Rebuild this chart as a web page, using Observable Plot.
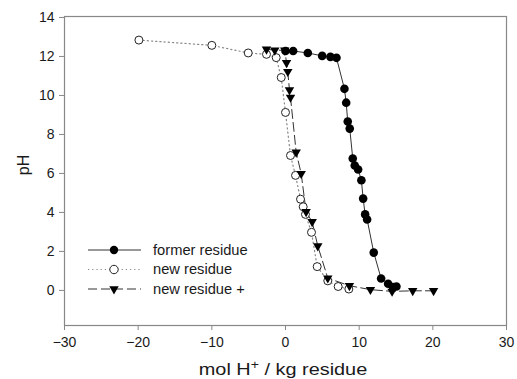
<!DOCTYPE html>
<html>
<head>
<meta charset="utf-8">
<script src="https://cdn.jsdelivr.net/npm/d3@7"></script>
<script src="https://cdn.jsdelivr.net/npm/@observablehq/plot@0.6"></script>
<style>
  html, body { margin: 0; padding: 0; background: #fff; }
  #chart svg { display: block; }
</style>
</head>
<body>
<div id="chart"></div>
<script>
// Former residue (filled circles, solid line)
const formerX = [0, 1.04, 3.03, 4.98, 6.1, 6.92, 8.0, 8.24, 8.45, 8.72, 9.13, 9.4, 9.86, 10.3, 10.54, 10.81, 11.08, 11.98, 12.98, 13.93, 14.6, 15.06];
const formerY = [12.28, 12.28, 12.18, 12.03, 11.98, 11.93, 10.34, 9.63, 8.66, 8.3, 6.77, 6.41, 6.2, 5.65, 4.71, 3.9, 3.64, 1.94, 0.61, 0.34, 0.17, 0.2];

// New residue (open circles, dotted line)
const newX = [-19.9, -10.0, -5.06, -2.58, -1.26, -0.58, 0.0, 0.68, 1.36, 2.04, 2.4, 2.71, 3.53, 4.3, 5.74, 7.15, 8.6];
const newY = [12.84, 12.57, 12.18, 12.11, 11.94, 10.92, 9.13, 6.92, 5.9, 4.68, 4.29, 3.9, 2.98, 1.22, 0.49, 0.2, 0.07];

// New residue + (filled down triangles, dashed line)
const plusX = [-2.58, -1.45, -0.1, 0.14, 0.31, 0.54, 0.68, 1.45, 2.13, 2.8, 3.62, 4.38, 5.74, 8.68, 11.53, 14.47, 17.27, 20.1];
const plusY = [12.37, 12.32, 12.32, 11.68, 11.22, 10.28, 9.9, 7.09, 5.99, 4.03, 3.52, 2.28, 0.63, 0.24, 0.04, -0.05, -0.02, -0.02];

const xTicks = [-30, -20, -10, 0, 10, 20, 30];
const yTicks = [0, 2, 4, 6, 8, 10, 12, 14];
const seriesNames = ["former residue", "new residue", "new residue +"];
const xLabelMain = "mol H";
const xLabelSup = "+";
const xLabelRest = " / kg residue";
const yLabel = "pH";

const former = formerX.map((x, i) => ({x, y: formerY[i]}));
const nres = newX.map((x, i) => ({x, y: newY[i]}));
const plus = plusX.map((x, i) => ({x, y: plusY[i]}));

const font = "'Liberation Sans', Arial, Helvetica, sans-serif";
const axisColor = "#888";
const triR = 3.5;

const plot = Plot.plot({
  width: 517,
  height: 379,
  marginLeft: 64,
  marginRight: 11,
  marginTop: 16,
  marginBottom: 54,
  style: {fontFamily: font, fontSize: "14px", color: "#1a1a1a", background: "#fff"},
  x: {domain: [-30, 30]},
  y: {domain: [-1.8, 14.05]},
  marks: [
    Plot.frame({stroke: axisColor, strokeWidth: 1.2}),
    Plot.axisX({ticks: xTicks, tickSize: 5, tickPadding: 7, stroke: axisColor, fontSize: 14, label: null}),
    Plot.axisY({ticks: yTicks, tickSize: 5, tickPadding: 5, stroke: axisColor, fontSize: 14, label: null}),
    Plot.line(nres, {x: "x", y: "y", stroke: "#888", strokeWidth: 1.2, strokeDasharray: "1.2,3"}),
    Plot.line(plus, {x: "x", y: "y", stroke: "#333", strokeWidth: 1, strokeDasharray: "9,4"}),
    Plot.line(former, {x: "x", y: "y", stroke: "#333", strokeWidth: 1}),
    Plot.dot(nres, {x: "x", y: "y", r: 4, fill: "#fff", stroke: "#222", strokeWidth: 1}),
    Plot.dot(plus, {x: "x", y: "y", r: triR, symbol: "triangle", rotate: 180, fill: "#000", stroke: "none"}),
    Plot.dot(former, {x: "x", y: "y", r: 4.3, fill: "#000", stroke: "none"})
  ]
});

document.getElementById("chart").appendChild(plot);

const svg = d3.select(plot);

// Axis titles
svg.append("text")
  .attr("transform", "translate(283,375) scale(1.17,1)")
  .attr("text-anchor", "middle")
  .attr("font-family", font).attr("font-size", 17).attr("fill", "#1a1a1a")
  .call(t => {
    t.append("tspan").text(xLabelMain);
    t.append("tspan").attr("dy", -6).attr("font-size", 12).text(xLabelSup);
    t.append("tspan").attr("dy", 6).text(xLabelRest);
  });

svg.append("text")
  .attr("transform", "translate(29,165) rotate(-90)")
  .attr("text-anchor", "middle")
  .attr("font-family", font).attr("font-size", 16).attr("fill", "#1a1a1a")
  .text(yLabel);

// Legend
const legendStyles = [
  {dash: null, stroke: "#333", width: 1, sym: "circle", fill: "#000", mstroke: "none"},
  {dash: "1.2,3", stroke: "#888", width: 1.2, sym: "ocircle", fill: "#fff", mstroke: "#222"},
  {dash: "9,4", stroke: "#333", width: 1, sym: "triangle", fill: "#000", mstroke: "none"}
];
const lg = svg.append("g");
seriesNames.forEach((name, i) => {
  const st = legendStyles[i];
  const y = 250 + i * 19.5;
  const g = lg.append("g").attr("transform", `translate(0,${y})`);
  g.append("line").attr("x1", 88).attr("x2", 141).attr("y1", 0).attr("y2", 0)
    .attr("stroke", st.stroke).attr("stroke-width", st.width)
    .attr("stroke-dasharray", st.dash);
  if (st.sym === "triangle") {
    g.append("path").attr("transform", "translate(114,0) rotate(180)")
      .attr("d", d3.symbol(d3.symbolTriangle, triR * triR * Math.PI)()).attr("fill", st.fill);
  } else {
    g.append("circle").attr("cx", 114).attr("cy", 0).attr("r", 4.2)
      .attr("fill", st.fill).attr("stroke", st.mstroke);
  }
  g.append("text").attr("transform", "translate(153,4.8) scale(1.05,1)")
    .attr("text-anchor", "start")
    .attr("font-family", font).attr("font-size", 14).attr("fill", "#1a1a1a")
    .text(name);
});
</script>
</body>
</html>
